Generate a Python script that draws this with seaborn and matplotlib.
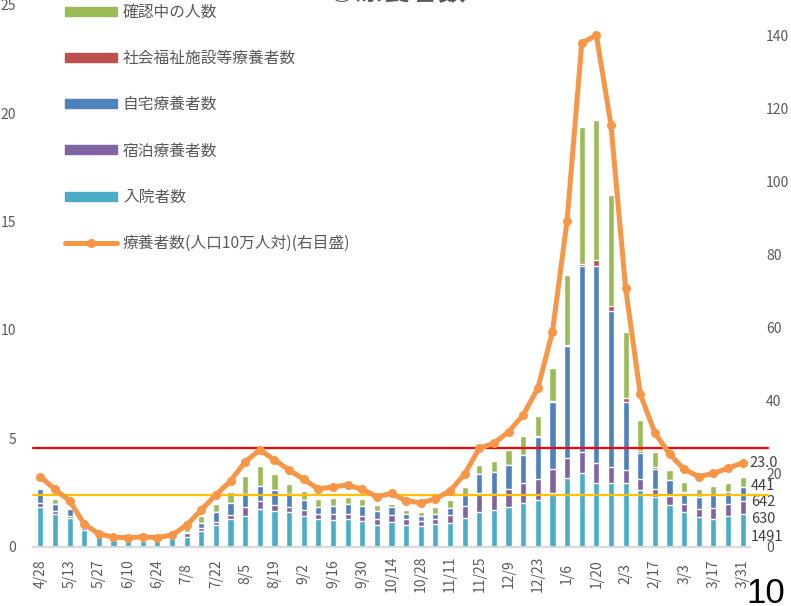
import numpy as np
import pandas as pd
import seaborn as sns
import matplotlib.pyplot as plt
from matplotlib.patches import Patch
from matplotlib.lines import Line2D

# 週ごとのデータ（単位：千人）
weeks = ["4/28", "5/6", "5/13", "5/20", "5/27", "6/3", "6/10", "6/17", "6/24", "7/1",
         "7/8", "7/15", "7/22", "7/29", "8/5", "8/12", "8/19", "8/26", "9/2", "9/9",
         "9/16", "9/23", "9/30", "10/7", "10/14", "10/21", "10/28", "11/4", "11/11", "11/18",
         "11/25", "12/2", "12/9", "12/16", "12/23", "12/30", "1/6", "1/13", "1/20", "1/27",
         "2/3", "2/10", "2/17", "2/24", "3/3", "3/10", "3/17", "3/24", "3/31"]

nyuin = [1.81, 1.50, 1.32, 0.77, 0.54, 0.30, 0.25, 0.25, 0.25, 0.38,
         0.43, 0.72, 0.98, 1.26, 1.40, 1.72, 1.66, 1.60, 1.41, 1.26,
         1.23, 1.26, 1.18, 1.00, 1.15, 1.00, 0.95, 1.03, 1.08, 1.31,
         1.61, 1.69, 1.84, 2.00, 2.15, 2.46, 3.15, 3.38, 2.96, 2.93,
         2.93, 2.61, 2.27, 1.92, 1.58, 1.35, 1.27, 1.41, 1.491]
shukuhaku = [0.21, 0.15, 0.11, 0.07, 0.03, 0.02, 0.02, 0.02, 0.02, 0.05,
             0.18, 0.12, 0.17, 0.20, 0.45, 0.41, 0.28, 0.25, 0.28, 0.25,
             0.26, 0.23, 0.25, 0.26, 0.31, 0.28, 0.25, 0.26, 0.37, 0.58,
             0.89, 0.74, 0.80, 0.92, 0.97, 1.11, 0.92, 1.00, 0.88, 0.75,
             0.61, 0.51, 0.41, 0.43, 0.37, 0.37, 0.52, 0.55, 0.630]
jitaku = [0.63, 0.32, 0.29, 0.08, 0.03, 0.02, 0.02, 0.02, 0.02, 0.05,
          0.08, 0.26, 0.43, 0.54, 0.58, 0.68, 0.69, 0.58, 0.46, 0.34,
          0.41, 0.46, 0.45, 0.40, 0.35, 0.24, 0.23, 0.23, 0.35, 0.49,
          0.84, 1.03, 1.12, 1.31, 1.95, 3.12, 5.18, 8.55, 9.11, 7.20,
          3.15, 1.21, 0.92, 0.72, 0.54, 0.55, 0.58, 0.57, 0.642]
shakai = [0.03, 0, 0, 0, 0, 0, 0, 0, 0, 0,
          0, 0, 0, 0, 0, 0, 0, 0, 0, 0,
          0, 0, 0, 0, 0, 0, 0, 0, 0, 0,
          0, 0, 0, 0.02, 0.02, 0.03, 0.04, 0.09, 0.26, 0.21,
          0.15, 0.09, 0.08, 0.02, 0.02, 0.01, 0.01, 0.01, 0.0]
kakunin = [0.00, 0.21, 0.03, 0.00, 0.00, 0.00, 0.00, 0.00, 0.00, 0.02,
           0.15, 0.31, 0.40, 0.54, 0.83, 0.91, 0.72, 0.48, 0.43, 0.35,
           0.35, 0.35, 0.31, 0.28, 0.18, 0.17, 0.17, 0.29, 0.34, 0.38,
           0.41, 0.49, 0.68, 0.86, 0.93, 1.54, 3.23, 6.32, 6.45, 5.14,
           3.06, 1.41, 0.69, 0.43, 0.47, 0.38, 0.42, 0.42, 0.441]

# 療養者数（人口10万人対）
per100k = [19.2, 15.7, 12.6, 6.2, 3.5, 2.6, 2.5, 2.7, 2.5, 3.2,
           5.9, 10.1, 14.2, 18.0, 23.3, 26.5, 23.8, 21.0, 18.5, 15.8,
           16.4, 16.9, 15.7, 13.7, 14.6, 12.6, 12.0, 13.1, 15.3, 19.9,
           27.0, 28.3, 31.5, 36.1, 43.4, 58.9, 89.3, 137.9, 140.2, 115.5,
           70.8, 41.8, 31.2, 25.4, 21.2, 19.2, 20.1, 21.5, 23.0]

# 目安線（左軸の値）
red_level = 4.55
yellow_level = 2.38

df = pd.DataFrame({"week": weeks, "入院者数": nyuin, "宿泊療養者数": shukuhaku,
                   "自宅療養者数": jitaku, "社会福祉施設等療養者数": shakai,
                   "確認中の人数": kakunin})
stack_cols = ["入院者数", "宿泊療養者数", "自宅療養者数", "社会福祉施設等療養者数", "確認中の人数"]
colors = {"入院者数": "#4BACC6", "宿泊療養者数": "#8064A2", "自宅療養者数": "#4F81BD",
          "社会福祉施設等療養者数": "#C0504D", "確認中の人数": "#9BBB59"}
cum = df[stack_cols].cumsum(axis=1)

sns.set_style("white")
plt.rcParams["font.family"] = ["Noto Sans CJK JP", "DejaVu Sans"]
gray = "#595959"

fig = plt.figure(figsize=(7.91, 6.06), dpi=100)
ax = fig.add_axes([33 / 791, 59.3 / 606, 717 / 791, 542 / 606])

# 積み上げ棒（上の層から順に重ね描き）
for col in reversed(stack_cols):
    sns.barplot(x=df["week"], y=cum[col], color=colors[col], saturation=1,
                width=0.42, errorbar=None, ax=ax)

ax.axhline(red_level, xmin=0, xmax=1.025, color="#FF0000", lw=1.6, clip_on=False, zorder=5)
ax.axhline(yellow_level, xmin=0, xmax=1.025, color="#FFC000", lw=1.6, clip_on=False, zorder=5)

ax.set_ylim(0, 25)
ax.set_yticks(range(0, 26, 5))
ax.set_xticks(range(0, len(weeks), 2))
ax.set_xticklabels(weeks[::2], rotation=90, va="center")
ax.tick_params(axis="x", length=0, pad=19.5, labelsize=10, labelcolor=gray)
ax.tick_params(axis="y", length=0, pad=12, labelsize=10, labelcolor=gray)
ax.set_xlabel("")
ax.set_ylabel("")
for s in ["top", "left", "right"]:
    ax.spines[s].set_visible(False)
ax.spines["bottom"].set_color("#D9D9D9")
ax.spines["bottom"].set_linewidth(1.6)

# 右軸：人口10万人対
ax2 = ax.twinx()
x_pos = np.arange(len(weeks))
sns.lineplot(x=x_pos, y=per100k, ax=ax2, color="#F79646", lw=3.6, marker="o",
             markersize=6.5, markeredgewidth=0, legend=False)
ax2.set_ylim(0, 148.5)
ax2.set_yticks(range(0, 141, 20))
ax2.tick_params(axis="y", length=0, pad=11.5, labelsize=10, labelcolor=gray)
for s in ax2.spines.values():
    s.set_visible(False)
ax2.set_ylabel("")
ax.set_xlim(-0.5, len(weeks) - 0.5)

# 最新週のラベル
ax2.annotate(f"{per100k[-1]:.1f}", xy=(x_pos[-1], per100k[-1]), xytext=(5, 0),
             textcoords="offset points", ha="left", va="center", fontsize=10.5, color="#404040")
label_vals = [nyuin[-1], shukuhaku[-1], jitaku[-1], kakunin[-1]]
label_y = [0.45, 1.28, 2.06, 2.80]
for v, yy in zip(label_vals, label_y):
    ax.annotate(f"{v * 1000:.0f}", xy=(x_pos[-1], yy), xytext=(6, 0),
                textcoords="offset points", ha="left", va="center", fontsize=10.5,
                color="#404040", annotation_clip=False)

# 凡例
handles = [Patch(color=colors["確認中の人数"]), Patch(color=colors["社会福祉施設等療養者数"]),
           Patch(color=colors["自宅療養者数"]), Patch(color=colors["宿泊療養者数"]),
           Patch(color=colors["入院者数"]),
           Line2D([], [], color="#F79646", lw=3.6, marker="o", markersize=6.5, markeredgewidth=0)]
labels = ["確認中の人数", "社会福祉施設等療養者数", "自宅療養者数", "宿泊療養者数", "入院者数",
          "療養者数(人口10万人対)(右目盛)"]
fig.legend(handles, labels, loc="upper left", bbox_to_anchor=(57 / 791, 1 + 4 / 606),
           frameon=False, fontsize=11.3, labelspacing=1.86, handlelength=3.3,
           handleheight=0.5, handletextpad=0.4, borderpad=0, labelcolor=gray)

fig.text(0.502, 1 + 1 / 606, "①療養者数", ha="center", va="baseline", fontsize=20,
         fontweight="bold", color=gray)
fig.text(746 / 791, 3 / 606, "10", ha="left", va="baseline", fontsize=25,
         color="black", family="Liberation Sans")

fig.savefig("out.png", dpi=100)
